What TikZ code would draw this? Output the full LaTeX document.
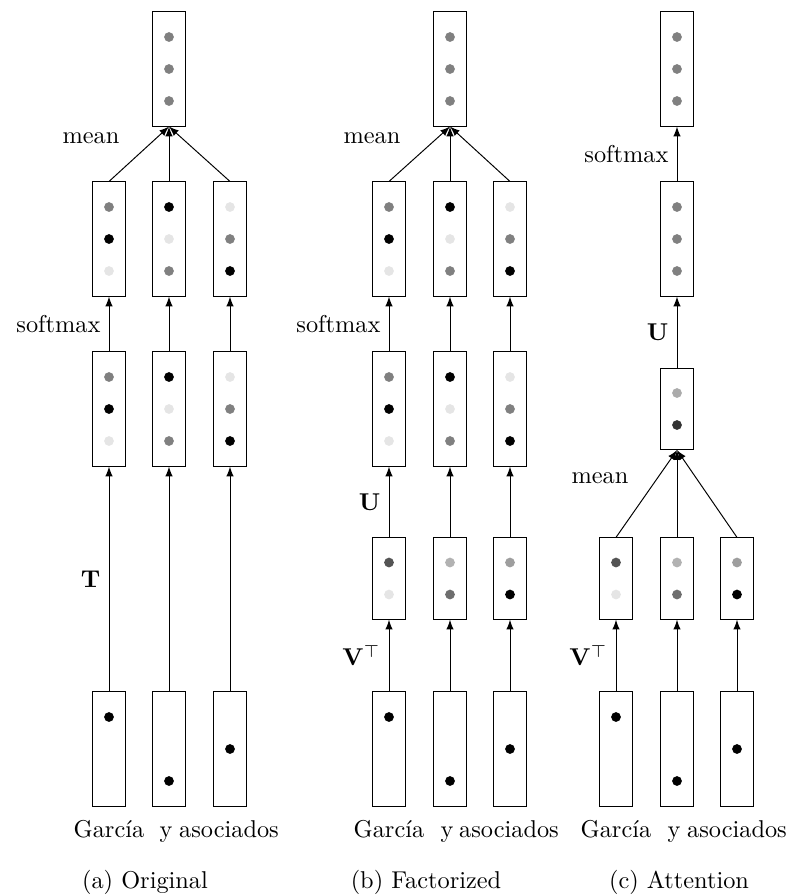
\documentclass[tikz,border=0pt]{standalone}
\usepackage{amsmath}
\usepackage{xcolor}
\usepackage{tikz}

\begin{document}
\begin{tikzpicture}[
                x=0.411pt,y=-0.411pt,
                vec/.style={draw,rectangle,thin,minimum width=13.4pt,minimum height=46.9pt,inner sep=0pt},
                short/.style={vec,minimum height=33.4pt},
                connection/.style={-latex,thin},
                word/.style={anchor=base},
            ]

            \useasboundingbox (0,0) rectangle (788,896);

            % (a) original
            \foreach \c/\x in {1/109,2/169,3/230} {
                \node[vec] (a0\c) at (\x,749) {};
                \node[vec] (a1\c) at (\x,409) {};
                \node[vec] (a2\c) at (\x,239) {};
            }
            \node[vec] (a3) at (169,69) {};

            % (b) factorized
            \foreach \c/\x in {1/389,2/450,3/510} {
                \node[vec] (b0\c) at (\x,749) {};
                \node[short] (b1\c) at (\x,578.5) {};
                \node[vec] (b2\c) at (\x,409) {};
                \node[vec] (b3\c) at (\x,239) {};
            }
            \node[vec] (b4) at (450,69) {};

            % (c) attention
            \foreach \c/\x in {1/616,2/677,3/737} {
                \node[vec] (c0\c) at (\x,749) {};
                \node[short] (c1\c) at (\x,578.5) {};
            }
            \node[short] (c2) at (677,409) {};
            \node[vec] (c3) at (677,239) {};
            \node[vec] (c4) at (677,69) {};

            % one-hot inputs
            \foreach \p in {a,b,c} {
                \foreach \c/\d in {1/-32,2/32,3/0} {
                    \fill (\p0\c.center) ++(0,\d) circle[radius=2pt];
                }
            }

            % three-dot vectors
            \foreach \n in {a1,a2,b2,b3} {
                \foreach \c/\u/\v/\w in {1/black!50/black/black!10,2/black/black!10/black!50,3/black!10/black!50/black} {
                    \fill[\u] (\n\c.center) ++(0,-32) circle[radius=2pt];
                    \fill[\v] (\n\c.center) circle[radius=2pt];
                    \fill[\w] (\n\c.center) ++(0,32) circle[radius=2pt];
                }
            }
            \foreach \n in {a3,b4,c3,c4} {
                \foreach \d in {-32,0,32} {
                    \fill[black!50] (\n.center) ++(0,\d) circle[radius=2pt];
                }
            }

            % two-dot vectors
            \foreach \n in {b1,c1} {
                \foreach \c/\u/\v in {1/black!67/black!10,2/black!30/black!57,3/black!38/black} {
                    \fill[\u] (\n\c.center) ++(0,-16) circle[radius=2pt];
                    \fill[\v] (\n\c.center) ++(0,16) circle[radius=2pt];
                }
            }
            \fill[black!33] (c2.center) ++(0,-16) circle[radius=2pt];
            \fill[black!80] (c2.center) ++(0,16) circle[radius=2pt];

            % connections
            \foreach \c in {1,2,3} {
                \draw[connection] (a0\c) -- (a1\c);
                \draw[connection] (a1\c) -- (a2\c);
                \draw[connection] (a2\c.north) -- (a3.south);
                \draw[connection] (b0\c) -- (b1\c);
                \draw[connection] (b1\c) -- (b2\c);
                \draw[connection] (b2\c) -- (b3\c);
                \draw[connection] (b3\c.north) -- (b4.south);
                \draw[connection] (c0\c) -- (c1\c);
                \draw[connection] (c1\c.north) -- (c2.south);
            }
            \draw[connection] (c2) -- (c3);
            \draw[connection] (c3) -- (c4);

            % labels
            \path (a01) -- node[left] (tA) {$\mathbf{T}$} (a11);
            \path (a11) -- node[left] (smA) {softmax} (a21);
            \node[anchor=base east] (meanA) at (128,143) {mean};
            \path (b01) -- node[left] (vB) {$\mathbf{V}^\top$} (b11);
            \path (b11) -- node[left] (uB) {$\mathbf{U}$} (b21);
            \path (b21) -- node[left] (smB) {softmax} (b31);
            \node[anchor=base east] (meanB) at (409,143) {mean};
            \path (c01) -- node[left] (vC) {$\mathbf{V}^\top$} (c11);
            \node[anchor=base east] (meanC) at (637,483) {mean};
            \path (c2) -- node[left] (uC) {$\mathbf{U}$} (c3);
            \path (c3) -- node[left] (smC) {softmax} (c4);

            % words
            \node[word] (wa1) at (109,837) {García};
            \node[word] (wa2) at (166,837) {y};
            \node[word] (wa3) at (229,837) {asociados};
            \node[word] (wb1) at (389,837) {García};
            \node[word] (wb2) at (447,837) {y};
            \node[word] (wb3) at (509,837) {asociados};
            \node[word] (wc1) at (616,837) {García};
            \node[word] (wc2) at (674,837) {y};
            \node[word] (wc3) at (737,837) {asociados};

            % captions
            \node[word] (capA) at (145,888) {(a) Original};
            \node[word] (capB) at (426,888) {(b) Factorized};
            \node[word] (capC) at (679,888) {(c) Attention};
        \end{tikzpicture}
\end{document}
